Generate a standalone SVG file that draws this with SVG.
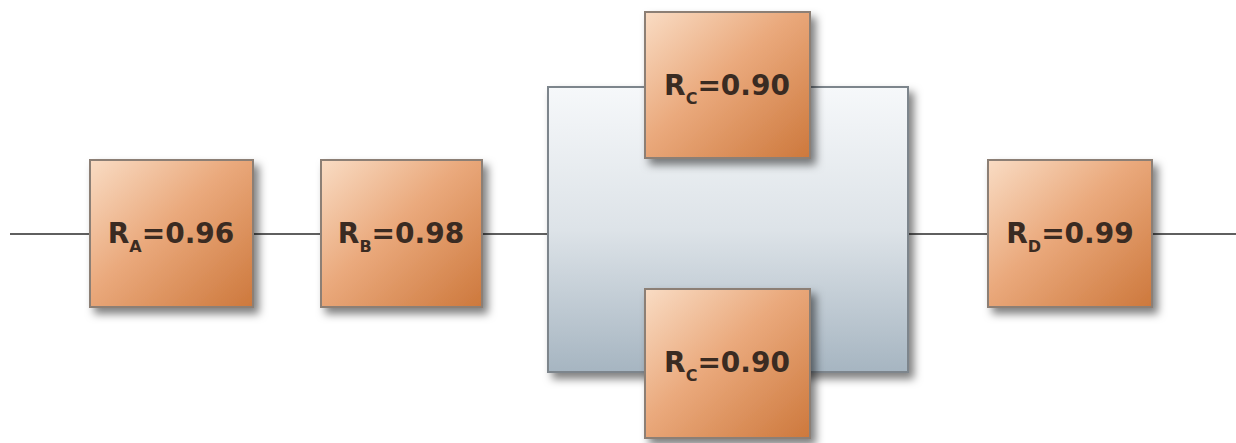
<svg xmlns="http://www.w3.org/2000/svg" width="1236" height="443" viewBox="0 0 1236 443">
<defs>
<linearGradient id="og" x1="0" y1="0" x2="1" y2="1">
<stop offset="0" stop-color="#f9dcc4"/>
<stop offset="0.45" stop-color="#eaa97c"/>
<stop offset="1" stop-color="#cd783c"/>
</linearGradient>
<linearGradient id="bg" x1="0" y1="0" x2="0" y2="1">
<stop offset="0" stop-color="#f6f8fa"/>
<stop offset="0.5" stop-color="#dde3e8"/>
<stop offset="1" stop-color="#a6b5c1"/>
</linearGradient>
<filter id="sh" x="-10%" y="-10%" width="125%" height="125%">
<feDropShadow dx="5" dy="6" stdDeviation="4" flood-color="#000" flood-opacity="0.5"/>
</filter>
</defs>
<style>
.blk{fill:url(#og);stroke:#8c7f74;stroke-width:2;filter:url(#sh)}
.par{fill:url(#bg);stroke:#7d858c;stroke-width:2;filter:url(#sh)}
.ln{stroke:#5f5f5f;stroke-width:2;fill:none}
.t{font-family:"DejaVu Sans",Verdana,sans-serif;font-weight:bold;font-size:28px;fill:#3a2b22;text-anchor:middle}
.s{font-size:16px}
</style>
<rect width="1236" height="443" fill="#ffffff"/>
<g id="connectors">
<line class="ln" x1="10" y1="234" x2="90" y2="234"/>
<line class="ln" x1="253" y1="234" x2="321" y2="234"/>
<line class="ln" x1="482" y1="234" x2="548" y2="234"/>
<line class="ln" x1="908" y1="234" x2="988" y2="234"/>
<line class="ln" x1="1152" y1="234" x2="1236" y2="234"/>
</g>
<g id="parallel">
<rect class="par" x="548" y="87" width="360" height="285"/>
</g>
<g id="nodeA">
<rect class="blk" x="90" y="160" width="163" height="147"/>
<text class="t" x="171" y="243">R<tspan class="s" dy="9">A</tspan><tspan dy="-9">=0.96</tspan></text>
</g>
<g id="nodeB">
<rect class="blk" x="321" y="160" width="161" height="147"/>
<text class="t" x="401" y="243">R<tspan class="s" dy="9">B</tspan><tspan dy="-9">=0.98</tspan></text>
</g>
<g id="nodeC1">
<rect class="blk" x="645" y="12" width="165" height="146"/>
<text class="t" x="727" y="95">R<tspan class="s" dy="9">C</tspan><tspan dy="-9">=0.90</tspan></text>
</g>
<g id="nodeC2">
<rect class="blk" x="645" y="289" width="165" height="149"/>
<text class="t" x="727" y="372">R<tspan class="s" dy="9">C</tspan><tspan dy="-9">=0.90</tspan></text>
</g>
<g id="nodeD">
<rect class="blk" x="988" y="160" width="164" height="147"/>
<text class="t" x="1070" y="243">R<tspan class="s" dy="9">D</tspan><tspan dy="-9">=0.99</tspan></text>
</g>
</svg>
